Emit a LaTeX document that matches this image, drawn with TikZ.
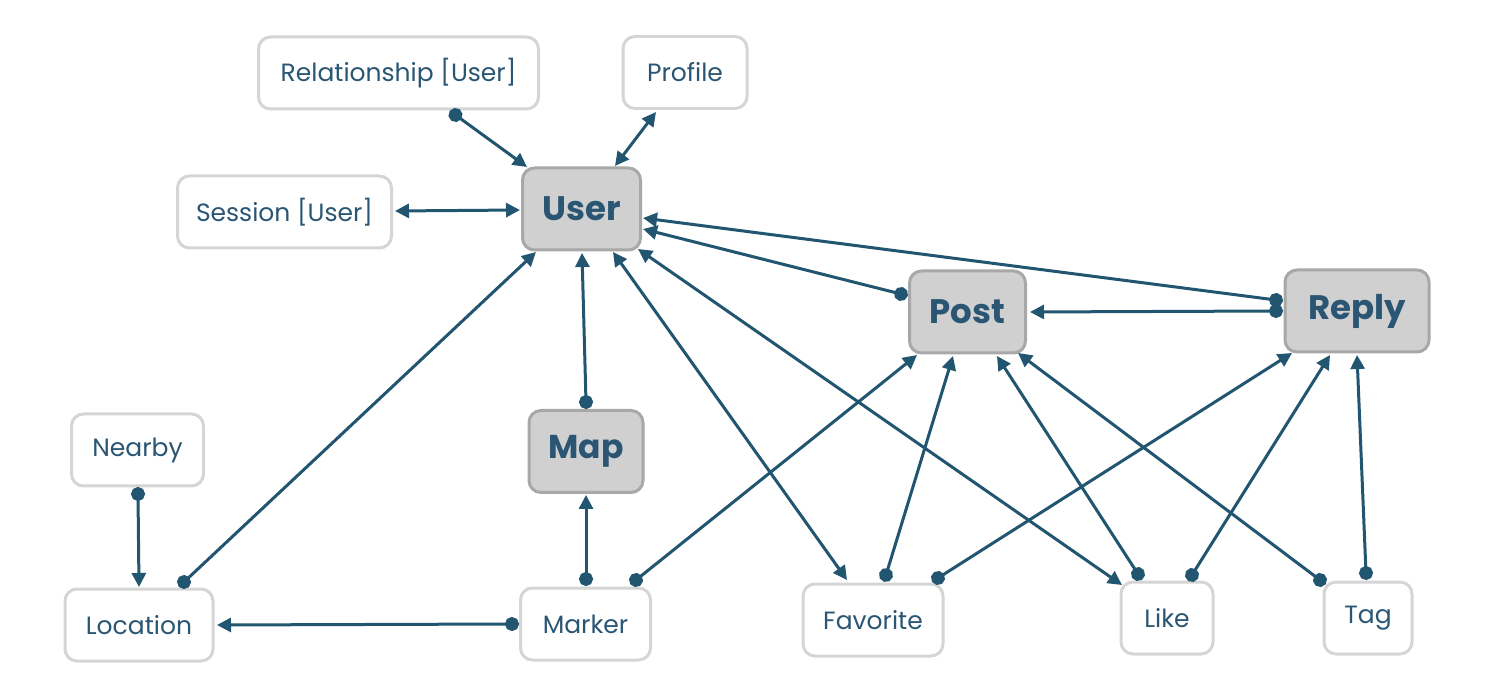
\documentclass[tikz,border=0pt]{standalone}
\usepackage{fontspec}
\setmainfont{Poppins}
\usetikzlibrary{arrows.meta}
\definecolor{linkblue}{HTML}{22556F}
\definecolor{labelblue}{HTML}{2A5673}
\definecolor{boxgray}{HTML}{D0D0D0}
\definecolor{boxedge}{HTML}{A8A8A8}
\definecolor{lightedge}{HTML}{D5D5D5}
\begin{document}
\begin{tikzpicture}[x=0.5pt,y=-0.5pt,
  entity/.style={draw=lightedge, line width=1.5pt, rounded corners=6pt, fill=white, text=labelblue, font=\fontsize{12.5}{15}\selectfont, minimum height=36pt},
  core/.style={draw=boxedge, line width=1.5pt, rounded corners=6pt, fill=boxgray, text=labelblue, font=\fontsize{17}{20}\selectfont\bfseries, minimum height=41pt},
  link/.style={linkblue, line width=1.5pt, {Circle[length=7pt,sep=-3.5pt]}-{Triangle[length=7pt,width=7pt]}},
  both/.style={linkblue, line width=1.5pt, {Triangle[length=7pt,width=7pt]}-{Triangle[length=7pt,width=7pt]}}]
\useasboundingbox (0,0) rectangle (1485,695);

% boxes
\node[entity, minimum width=140pt] (rel) at (398.5,73) {Relationship [User]};
\node[entity, minimum width=62pt] (prof) at (685,72.5) {Profile};
\node[entity, minimum width=107pt] (sess) at (284.5,212) {Session [User]};
\node[core, minimum width=59pt] (user) at (581.5,209) {User};
\node[core, minimum width=58pt] (post) at (967.5,312) {Post};
\node[core, minimum width=72pt] (reply) at (1357,311) {Reply};
\node[core, minimum width=57pt, font=\fontsize{16.5}{20}\selectfont\bfseries] (map) at (586,451.5) {Map};
\node[entity, minimum width=66pt] (nearby) at (137.5,450) {Nearby};
\node[entity, minimum width=74pt] (loc) at (139,625) {Location};
\node[entity, minimum width=65pt] (marker) at (585.5,624) {Marker};
\node[entity, minimum width=70pt] (fav) at (873,620) {Favorite};
\node[entity, minimum width=46pt] (like) at (1167,618) {Like};
\node[entity, minimum width=44pt] (tag) at (1368,618) {Tag};

% links around user
\draw[link] ([shift={(57,42)}]rel.center) -- ([shift={(-54.5,-42)}]user.center);
\draw[both] ([shift={(33.5,-43)}]user.center) -- ([shift={(-29,39.5)}]prof.center);
\draw[both] ([shift={(110.5,-1)}]sess.center) -- ([shift={(-61.5,1)}]user.center);
\draw[link] ([shift={(0,-49.5)}]map.center) -- ([shift={(0.5,44)}]user.center);
\draw[link] ([shift={(45,-43)}]loc.center) -- ([shift={(-45.5,43)}]user.center);
\draw[both] ([shift={(31.5,43)}]user.center) -- ([shift={(-26,-40)}]fav.center);
\draw[both] ([shift={(56.5,40)}]user.center) -- ([shift={(-45,-33)}]like.center);
\draw[link] ([shift={(-66.5,-18)}]post.center) -- ([shift={(61.5,20)}]user.center);
\draw[link] ([shift={(-81,-11)}]reply.center) -- ([shift={(61.5,9)}]user.center);

% map and location
\draw[link] ([shift={(0.5,-45)}]marker.center) -- ([shift={(0,43.5)}]map.center);
\draw[link] ([shift={(-73.5,0)}]marker.center) -- ([shift={(78,0)}]loc.center);
\draw[link] ([shift={(0.5,44)}]nearby.center) -- ([shift={(0,-38)}]loc.center);
\draw[link] ([shift={(50.5,-44)}]marker.center) -- ([shift={(-50.5,43)}]post.center);

% post and reply
\draw[link] ([shift={(-81,0)}]reply.center) -- ([shift={(62.5,0)}]post.center);
\draw[link] ([shift={(13,-45)}]fav.center) -- ([shift={(-14.5,44)}]post.center);
\draw[link] ([shift={(65,-42)}]fav.center) -- ([shift={(-65,42)}]reply.center);
\draw[link] ([shift={(-29,-44)}]like.center) -- ([shift={(29.5,44)}]post.center);
\draw[link] ([shift={(25,-43)}]like.center) -- ([shift={(-27,44)}]reply.center);
\draw[link] ([shift={(-48,-38)}]tag.center) -- ([shift={(50.5,41)}]post.center);
\draw[link] ([shift={(-2,-45)}]tag.center) -- ([shift={(0,44)}]reply.center);
\end{tikzpicture}
\end{document}
